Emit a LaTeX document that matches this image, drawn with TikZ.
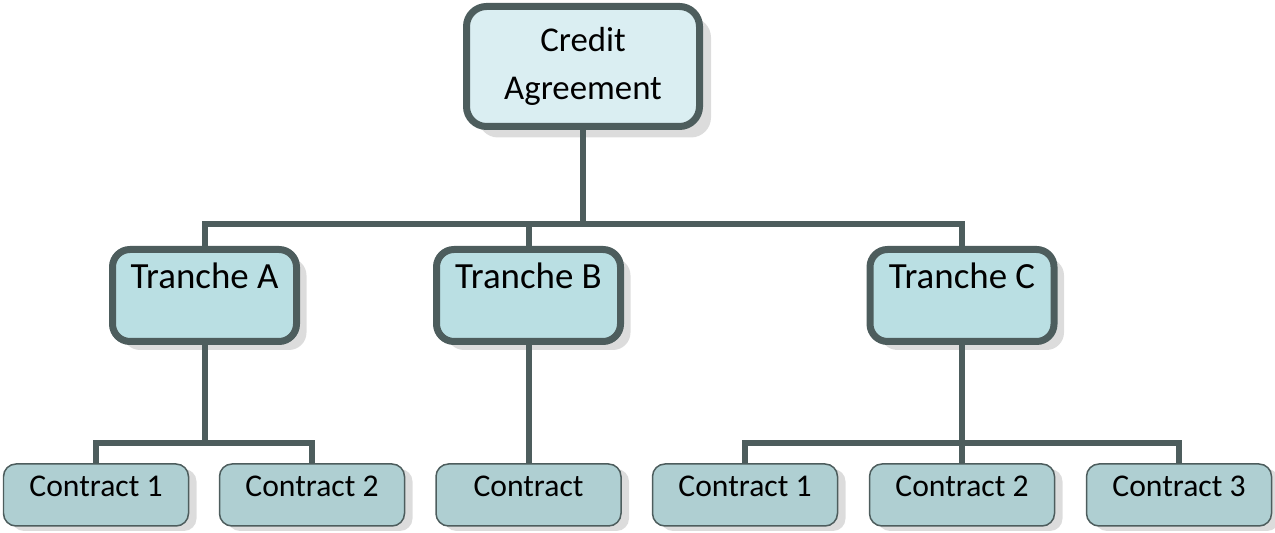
\documentclass[tikz,border=0pt]{standalone}
\usepackage{fontspec}
\setmainfont{Carlito}
\usetikzlibrary{shadows}
\definecolor{edgegrey}{HTML}{4D5D5D}
\definecolor{topfill}{HTML}{DAEEF2}
\definecolor{tranfill}{HTML}{BADFE3}
\definecolor{confill}{HTML}{AFCFD2}
\begin{document}
\begin{tikzpicture}[
  every node/.style={align=center, inner sep=0pt},
  link/.style={draw=edgegrey, line width=0.12cm},
  topbox/.style={draw=edgegrey, line width=0.14cm, fill=topfill, rounded corners=0.4cm,
    minimum width=4.66cm, minimum height=2.4cm, font=\fontsize{19.8}{27.2}\selectfont,
    drop shadow={shadow xshift=0.23cm, shadow yshift=-0.22cm, fill=black!27}},
  tranche/.style={draw=edgegrey, line width=0.14cm, fill=tranfill, rounded corners=0.35cm,
    minimum width=3.68cm, text height=0.79cm, text depth=1.05cm, font=\fontsize{21}{25}\selectfont,
    drop shadow={shadow xshift=0.2cm, shadow yshift=-0.17cm, fill=black!27}},
  contract/.style={draw=edgegrey, line width=0.03cm, fill=confill, rounded corners=0.25cm,
    minimum width=3.7cm, text height=0.66cm, text depth=0.58cm, font=\fontsize{18}{21}\selectfont,
    drop shadow={shadow xshift=0.16cm, shadow yshift=-0.1cm, fill=black!27}}
]
\useasboundingbox (0,0) rectangle (25.5,10.66);
% top of the tree
\node[topbox] (ca) at (11.66,9.33) {Credit\\Agreement};
% tranches
\node[tranche] (ta) at (4.09,4.75) {Tranche A};
\node[tranche] (tb) at (10.57,4.75) {Tranche B};
\node[tranche] (tc) at (19.24,4.75) {Tranche C};
% contracts
\node[contract] (a1) at (1.92,0.76) {Contract 1};
\node[contract] (a2) at (6.24,0.76) {Contract 2};
\node[contract] (b1) at (10.57,0.76) {Contract};
\node[contract] (c1) at (14.9,0.76) {Contract 1};
\node[contract] (c2) at (19.24,0.76) {Contract 2};
\node[contract] (c3) at (23.58,0.76) {Contract 3};
% connectors
\foreach \tr in {ta,tb,tc}
  \draw[link] (ca.south) -- ++(0,-1.89) -| (\tr.north);
\foreach \ct in {a1,a2}
  \draw[link] (ta.south) -- ++(0,-1.97) -| (\ct.north);
\draw[link] (tb.south) -- (b1.north);
\foreach \ct in {c1,c2,c3}
  \draw[link] (tc.south) -- ++(0,-1.97) -| (\ct.north);
\end{tikzpicture}
\end{document}
